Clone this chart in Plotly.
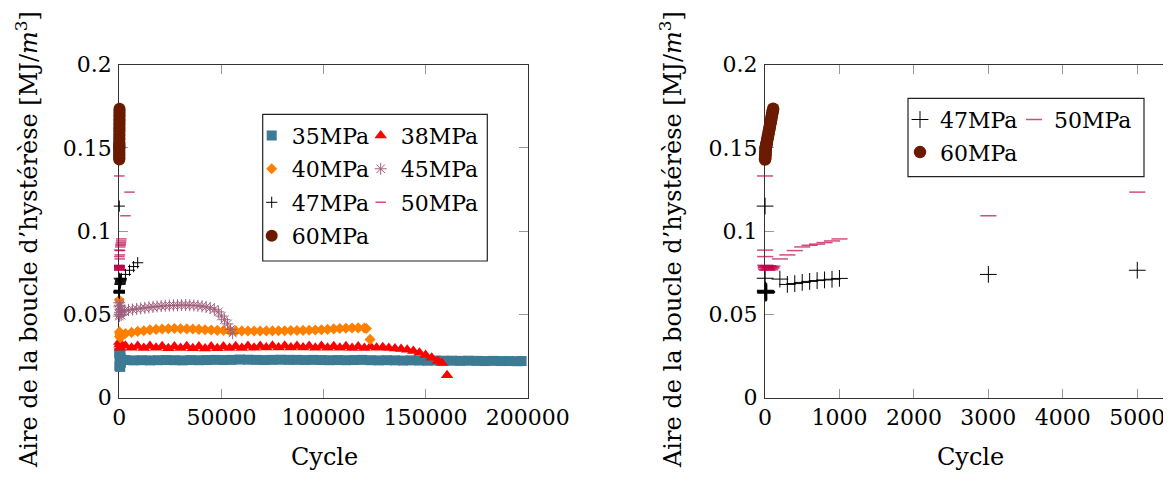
import plotly.graph_objects as go

# The page body has an 8px margin, so the figure is sized to the visible window area.
OFF = 8
W, H = 1171 - OFF, 477 - OFF

# ---------------- data ----------------
c35 = [1, 60, 120, 200, 300, 450, 600, 800, 1000,
       3000, 7000, 11000, 15000, 19000, 23000, 27000, 31000, 35000, 39000,
       43000, 47000, 51000, 55000, 59000, 63000, 67000, 71000, 75000, 79000,
       83000, 87000, 91000, 95000, 99000, 103000, 107000, 111000, 115000, 119000,
       123000, 127000, 131000, 135000, 139000, 143000, 147000, 151000, 155000, 159000,
       163000, 167000, 171000, 175000, 179000, 183000, 187000, 191000, 195000, 197000]
v35 = [0.0268, 0.0188, 0.0255, 0.0196, 0.0240, 0.0185, 0.0262, 0.0210, 0.0230,
       0.0226, 0.0224, 0.0225, 0.0224, 0.0225, 0.0226, 0.0225, 0.0224, 0.0226, 0.0225,
       0.0226, 0.0227, 0.0226, 0.0227, 0.0229, 0.0228, 0.0227, 0.0226, 0.0227, 0.0228,
       0.0227, 0.0227, 0.0226, 0.0227, 0.0226, 0.0225, 0.0226, 0.0225, 0.0226, 0.0227,
       0.0225, 0.0224, 0.0225, 0.0224, 0.0223, 0.0224, 0.0223, 0.0222, 0.0223, 0.0222,
       0.0222, 0.0221, 0.0222, 0.0221, 0.0220, 0.0221, 0.0220, 0.0220, 0.0219, 0.0220]

c38 = [1, 100, 300, 600,
       3000, 6000, 9000, 12000, 15000, 18000, 21000, 24000, 27000, 30000,
       33000, 36000, 39000, 42000, 45000, 48000, 51000, 54000, 57000, 60000,
       63000, 66000, 69000, 72000, 75000, 78000, 81000, 84000, 87000, 90000,
       93000, 96000, 99000, 102000, 105000, 108000, 111000, 114000, 117000, 120000,
       123000, 126000, 129000, 132000, 135000, 138000, 141000, 144000, 147000, 150000,
       153000, 156000, 158000, 160500]
v38 = [0.0335, 0.0318, 0.0300, 0.0325,
       0.0312, 0.0300, 0.0310, 0.0298, 0.0311, 0.0300, 0.0309, 0.0297, 0.0308, 0.0298,
       0.0309, 0.0297, 0.0308, 0.0296, 0.0307, 0.0297, 0.0308, 0.0298, 0.0309, 0.0299,
       0.0310, 0.0300, 0.0311, 0.0301, 0.0312, 0.0302, 0.0312, 0.0302, 0.0311, 0.0301,
       0.0310, 0.0300, 0.0310, 0.0300, 0.0309, 0.0300, 0.0309, 0.0299, 0.0308, 0.0299,
       0.0307, 0.0300, 0.0303, 0.0299, 0.0296, 0.0293, 0.0288, 0.0280, 0.0270, 0.0257,
       0.0240, 0.0220, 0.0208, 0.0135]

c40 = [1, 50, 150, 300, 500, 800,
       3000, 6000, 9000, 12000, 15000, 18000, 21000, 24000, 27000, 30000,
       33000, 36000, 39000, 42000, 45000, 48000, 51000, 54000, 57000, 60000,
       63000, 66000, 69000, 72000, 75000, 78000, 81000, 84000, 87000, 90000,
       93000, 96000, 99000, 102000, 105000, 108000, 111000, 114000, 117000, 120000,
       121000, 122800]
v40 = [0.0586, 0.0395, 0.0368, 0.0382, 0.0360, 0.0375,
       0.0385, 0.0392, 0.0398, 0.0402, 0.0407, 0.0410, 0.0412, 0.0414, 0.0415, 0.0414,
       0.0413, 0.0412, 0.0410, 0.0408, 0.0406, 0.0404, 0.0403, 0.0402, 0.0401, 0.0401,
       0.0400, 0.0400, 0.0400, 0.0401, 0.0401, 0.0402, 0.0402, 0.0403, 0.0403, 0.0404,
       0.0405, 0.0406, 0.0408, 0.0410, 0.0413, 0.0415, 0.0417, 0.0418, 0.0419, 0.0418,
       0.0415, 0.0350]

c45 = [1, 30, 80, 150, 250, 400, 600, 900, 1200,
       2500, 4500, 6500, 8500, 10500, 12500, 14500, 16500, 18500, 20500,
       22500, 24500, 26500, 28500, 30500, 32500, 34500, 36500, 38500, 40500,
       42500, 44500, 46500, 48500, 50000, 51500, 53000, 54500, 55500]
v45 = [0.0570, 0.0490, 0.0545, 0.0500, 0.0555, 0.0510, 0.0530, 0.0495, 0.0520,
       0.0522, 0.0526, 0.0529, 0.0533, 0.0536, 0.0539, 0.0542, 0.0545, 0.0548, 0.0550,
       0.0552, 0.0553, 0.0554, 0.0555, 0.0556, 0.0556, 0.0555, 0.0554, 0.0552, 0.0549,
       0.0545, 0.0539, 0.0531, 0.0515, 0.0490, 0.0468, 0.0443, 0.0410, 0.0387]

c47 = [1, 2, 3, 4, 5, 6, 8, 10, 12, 15, 18, 20, 25,
       200, 300, 400, 500, 600, 700, 800, 900, 1000,
       3000, 5000, 7000, 9000]
v47 = [0.1150, 0.0717, 0.0640, 0.0630, 0.0645, 0.0635, 0.0638, 0.0628, 0.0642, 0.0633, 0.0637, 0.0630, 0.0635,
       0.0712, 0.0680, 0.0685, 0.0692, 0.0698, 0.0703, 0.0707, 0.0711, 0.0716,
       0.0740, 0.0765, 0.0787, 0.0810]

c50 = [1, 2, 3,
       5, 8, 10, 15, 20, 30, 40, 50, 60, 70, 80, 90, 100,
       200, 300, 400, 500, 600, 700, 800, 900, 1000,
       3000, 5000]
v50 = [0.1331, 0.0886, 0.0847,
       0.0795, 0.0780, 0.0790, 0.0770, 0.0785, 0.0765, 0.0792, 0.0775, 0.0788, 0.0768, 0.0783, 0.0778, 0.0790,
       0.0833, 0.0857, 0.0883, 0.0905, 0.0915, 0.0922, 0.0931, 0.0941, 0.0953,
       0.1092, 0.1234]

c60 = [1, 2, 3, 4, 5, 6, 7, 8, 9, 10, 12, 14, 16, 18, 20, 25, 30, 35, 40, 45,
       50, 55, 60, 65, 70, 75, 80, 85, 90, 95, 100, 105, 110]
v60 = [0.1430, 0.1437, 0.1445, 0.1452, 0.1461, 0.1469, 0.1477, 0.1487, 0.1493, 0.1500,
       0.1504, 0.1510, 0.1513, 0.1520, 0.1524, 0.1534, 0.1548, 0.1558, 0.1571, 0.1581,
       0.1595, 0.1605, 0.1618, 0.1628, 0.1642, 0.1652, 0.1665, 0.1675, 0.1689, 0.1699,
       0.1712, 0.1722, 0.1735]

y_ticks = [0, 0.05, 0.1, 0.15, 0.2]
y_ticktext = ["0", "0.05", "0.1", "0.15", "0.2"]
x1_ticks = [0, 50000, 100000, 150000, 200000]
x2_ticks = [0, 1000, 2000, 3000, 4000, 5000]

# ---------------- styles ----------------
FONT = "DejaVu Serif"
C35, C38, C40, C45 = "#3d7a94", "#ff0000", "#ff8000", "#a0607e"
C47, C50, C60 = "#000000", "rgba(192,0,72,0.7)", "#6b1a00"


def X(px):
    """window pixel -> paper fraction"""
    return (px - OFF) / W


def Y(py):
    return 1 - (py - OFF) / H


fig = go.Figure()


def add(xs, ys, name, symbol, size, color, xa, ya, legend, line=False, lw=1.0):
    marker = dict(symbol=symbol, size=size, color=color)
    if line:
        marker["line"] = dict(color=color, width=lw)
    else:
        marker["line"] = dict(width=0)
    fig.add_trace(go.Scatter(x=xs, y=ys, mode="markers", name=name, marker=marker,
                             xaxis=xa, yaxis=ya, legend=legend,
                             cliponaxis=False, showlegend=True))


# left panel
add(c35, v35, "35MPa", "square", 10, C35, "x", "y", "legend")
add(c38, v38, "38MPa", "triangle-up", 11, C38, "x", "y", "legend2")
add(c40, v40, "40MPa", "diamond", 8.5, C40, "x", "y", "legend3")
add(c45, v45, "45MPa", "asterisk-open", 10, C45, "x", "y", "legend4", line=True, lw=1)
add(c47, v47, "47MPa", "cross-thin-open", 8, C47, "x", "y", "legend5", line=True, lw=1)
add(c50, v50, "50MPa", "line-ew-open", 7.5, C50, "x", "y", "legend6", line=True, lw=1.5)
add(c60, v60, "60MPa", "circle", 12, C60, "x", "y", "legend7")
# right panel
add(c47, v47, "47MPa", "cross-thin-open", 12, C47, "x2", "y2", "legend8", line=True, lw=1)
add(c50, v50, "50MPa", "line-ew-open", 11.5, C50, "x2", "y2", "legend9", line=True, lw=1.5)
add(c60, v60, "60MPa", "circle", 12.5, C60, "x2", "y2", "legend10")

# ---------------- axes ----------------
axis_common = dict(showgrid=False, zeroline=False, showline=True, linecolor="#333333",
                   linewidth=1.2, ticks="inside", ticklen=9, tickwidth=1, tickcolor="#999999",
                   tickfont=dict(family=FONT, size=22, color="black"), layer="below traces")

plot_top, plot_bot = 64.5, 397.7
fig.update_layout(
    xaxis=dict(domain=[X(119.3), X(527.7)], range=[0, 200000], tickvals=x1_ticks,
               tickformat="d", mirror="ticks", anchor="y", **axis_common),
    yaxis=dict(domain=[Y(plot_bot), Y(plot_top)], range=[0, 0.2], tickvals=y_ticks,
               ticktext=y_ticktext, mirror="ticks", anchor="x", ticklabelstandoff=2, **axis_common),
    xaxis2=dict(domain=[X(765), 1.0], range=[0, 5453], tickvals=x2_ticks,
                tickformat="d", mirror="ticks", anchor="y2", **axis_common),
    yaxis2=dict(domain=[Y(plot_bot), Y(plot_top)], range=[0, 0.2], tickvals=y_ticks,
                ticktext=y_ticktext, mirror=False, anchor="x2", ticklabelstandoff=2, **axis_common),
    yaxis3=dict(overlaying="y2", side="right", anchor="x2", range=[0, 0.2], tickvals=y_ticks,
                showticklabels=False, showline=False, showgrid=False, zeroline=False,
                ticks="inside", ticklen=9, tickwidth=1, tickcolor="#999999"),
)

# ---------------- legends ----------------
LEG_FONT = dict(family=FONT, size=22, color="black")


def leg(mx, my):
    # plotly puts the symbol ~20px from the legend's left edge
    return dict(x=X(mx - 20), y=Y(my), xanchor="left", yanchor="middle", orientation="h",
                bgcolor="rgba(0,0,0,0)", borderwidth=0, font=LEG_FONT, itemwidth=30)


legend_pos = {
    "legend": (271.7, 135.7), "legend2": (380.7, 135.7),
    "legend3": (271.7, 169.0), "legend4": (380.7, 169.0),
    "legend5": (271.7, 202.5), "legend6": (380.7, 202.5),
    "legend7": (271.7, 236.0),
    "legend8": (920.0, 119.7), "legend9": (1034.0, 119.7),
    "legend10": (920.0, 152.3),
}
fig.update_layout(**{k: leg(*v) for k, v in legend_pos.items()})

shapes = [
    dict(type="rect", xref="paper", yref="paper", x0=X(262.7), x1=X(487.3), y0=Y(261), y1=Y(114.3),
         line=dict(color="#222222", width=1.2), fillcolor="white", layer="above"),
    dict(type="rect", xref="paper", yref="paper", x0=X(908), x1=X(1144), y0=Y(176.7), y1=Y(98.3),
         line=dict(color="#222222", width=1.2), fillcolor="white", layer="above"),
]

ytitle = "Aire de la boucle d’hystérèse [MJ/<i>m</i><sup>3</sup>]"
annotations = [
    dict(text="Cycle", x=X(324), y=Y(457), xref="paper", yref="paper", showarrow=False,
         xanchor="center", yanchor="middle", font=dict(family=FONT, size=24, color="black")),
    dict(text="Cycle", x=X(970), y=Y(457), xref="paper", yref="paper", showarrow=False,
         xanchor="center", yanchor="middle", font=dict(family=FONT, size=24, color="black")),
    dict(text=ytitle, x=X(27), y=Y(240), xref="paper", yref="paper", showarrow=False, textangle=-90,
         xanchor="center", yanchor="middle", font=dict(family=FONT, size=24, color="black")),
    dict(text=ytitle, x=X(671), y=Y(240), xref="paper", yref="paper", showarrow=False, textangle=-90,
         xanchor="center", yanchor="middle", font=dict(family=FONT, size=24, color="black")),
]

fig.update_layout(width=W, height=H, margin=dict(l=0, r=0, t=0, b=0, autoexpand=False),
                  paper_bgcolor="white", plot_bgcolor="white", shapes=shapes,
                  annotations=annotations, font=dict(family=FONT, size=22, color="black"))

fig.write_html("out.html")
